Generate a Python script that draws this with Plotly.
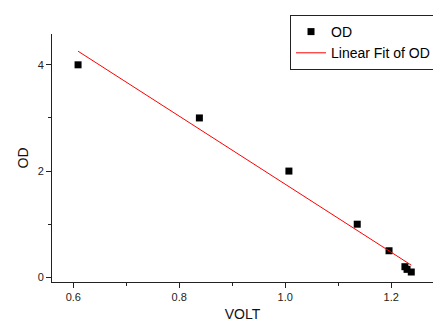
import numpy as np
import plotly.graph_objects as go

volt = [0.609, 0.838, 1.007, 1.136, 1.196, 1.226, 1.230, 1.238]
od = [4.0, 3.0, 2.0, 1.0, 0.5, 0.2, 0.15, 0.1]

slope, intercept = np.polyfit(volt, od, 1)
fit_x = [min(volt), max(volt)]
fit_y = [slope * v + intercept for v in fit_x]

FONT = "Liberation Sans, Arial, sans-serif"

fig = go.Figure()
fig.add_trace(go.Scatter(
    x=volt, y=od, mode="markers", name="OD",
    marker=dict(symbol="square", size=7, color="black", line=dict(width=0)),
))
fig.add_trace(go.Scatter(
    x=fit_x, y=fit_y, mode="lines", name="Linear Fit of OD",
    line=dict(color="red", width=1),
))

axis_common = dict(
    showgrid=False, zeroline=False, showline=True, linecolor="#222", linewidth=1,
    ticks="outside", ticklen=5, tickwidth=1, tickcolor="#222",
    tickfont=dict(family=FONT, size=11, color="#222"),
    mirror=False,
)

fig.update_layout(
    width=433, height=322,
    margin=dict(l=52, r=0, t=34, b=40, autoexpand=False),
    paper_bgcolor="white", plot_bgcolor="white",
    font=dict(family=FONT, color="#111"),
    showlegend=True,
    legend=dict(
        x=0.6247, y=1.0766, xanchor="left", yanchor="top",
        bordercolor="#222", borderwidth=1, bgcolor="white",
        font=dict(family=FONT, size=14, color="black"),
        tracegroupgap=0, itemwidth=30,
    ),
    xaxis=dict(
        range=[0.5598, 1.279], tickvals=[0.6, 0.8, 1.0, 1.2],
        ticktext=["0.6", "0.8", "1.0", "1.2"],
        minor=dict(tickvals=[0.7, 0.9, 1.1], ticks="outside", ticklen=3, tickcolor="#222"),
        title=dict(text="VOLT", font=dict(family=FONT, size=14, color="#111"), standoff=12),
        **axis_common,
    ),
    yaxis=dict(
        range=[-0.088, 4.58], tickvals=[0, 2, 4],
        minor=dict(tickvals=[1, 3], ticks="outside", ticklen=3, tickcolor="#222"),
        title=dict(text="OD", font=dict(family=FONT, size=14, color="#111"), standoff=5),
        **axis_common,
    ),
    hovermode=False,
)

fig.write_html(
    "out.html",
    config={"displayModeBar": False},
    post_script="document.body.style.margin='0';document.body.style.overflow='hidden';",
)
